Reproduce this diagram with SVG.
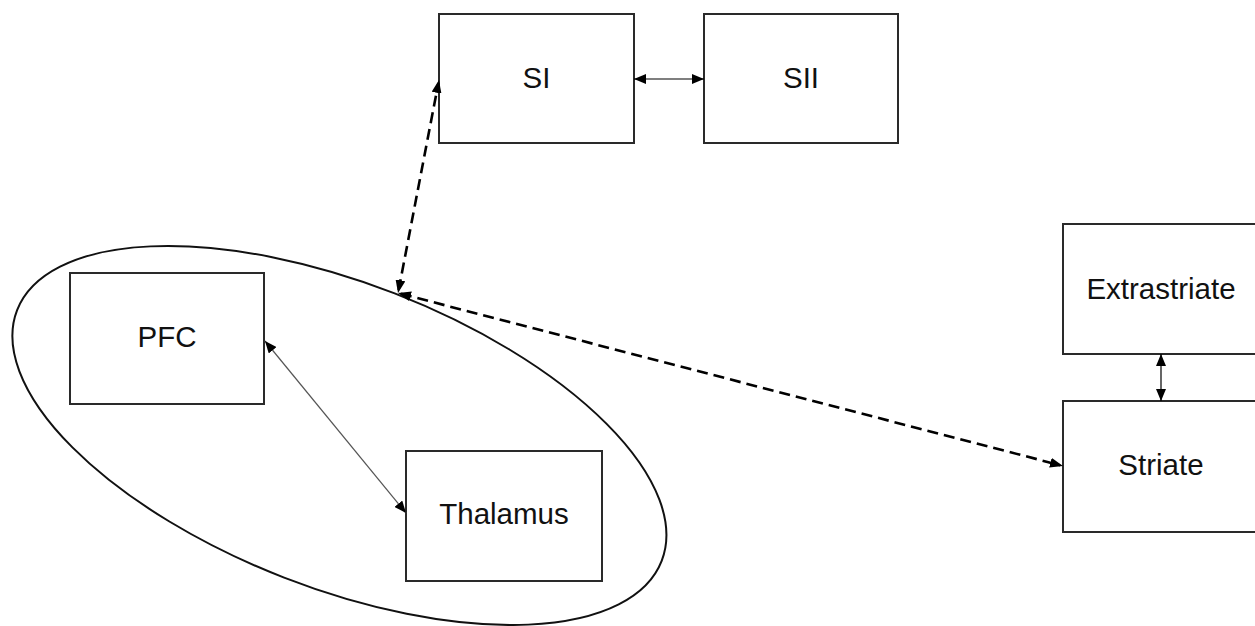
<svg xmlns="http://www.w3.org/2000/svg" width="1255" height="626" viewBox="0 0 1255 626">
  <style>
    .box { fill: #ffffff; stroke: #2a2a2a; stroke-width: 2; }
    .lbl { font-family: "Liberation Sans", Arial, sans-serif; font-size: 29.5px; fill: #111111; text-anchor: middle; }
    .thin { fill: none; stroke: #000000; stroke-width: 1.2; }
    .gray { fill: none; stroke: #555555; stroke-width: 1.2; }
    .dash { fill: none; stroke: #000000; stroke-width: 2.6; stroke-dasharray: 11 6; }
    .group { fill: none; stroke: #111111; stroke-width: 2; }
  </style>
  <defs>
    <marker id="ah" viewBox="0 0 12 10" refX="12" refY="5" markerWidth="12" markerHeight="10" orient="auto-start-reverse" markerUnits="userSpaceOnUse">
      <path d="M0,0 L12,5 L0,10 z" fill="#000000"/>
    </marker>
    <marker id="ahd" viewBox="0 0 13 10" refX="10" refY="5" markerWidth="13" markerHeight="10" orient="auto-start-reverse" markerUnits="userSpaceOnUse">
      <path d="M0,0 L13,5 L0,10 z" fill="#000000"/>
    </marker>
  </defs>
  <rect width="1255" height="626" fill="#ffffff"/>

  <g id="group-ellipse">
    <ellipse class="group" cx="339.4" cy="435.5" rx="345.8" ry="152.5" transform="rotate(21.25 339.4 435.5)"/>
  </g>

  <g id="node-SI">
    <rect class="box" x="439" y="14" width="195" height="129"/>
    <text class="lbl" x="536.5" y="88">SI</text>
  </g>
  <g id="node-SII">
    <rect class="box" x="704" y="14" width="194" height="129"/>
    <text class="lbl" x="801" y="88">SII</text>
  </g>
  <g id="node-PFC">
    <rect class="box" x="70" y="273" width="194" height="131"/>
    <text class="lbl" x="167" y="347">PFC</text>
  </g>
  <g id="node-Thalamus">
    <rect class="box" x="406" y="451" width="196" height="130"/>
    <text class="lbl" x="504" y="524">Thalamus</text>
  </g>
  <g id="node-Extrastriate">
    <rect class="box" x="1063" y="224" width="196" height="130"/>
    <text class="lbl" x="1161" y="299">Extrastriate</text>
  </g>
  <g id="node-Striate">
    <rect class="box" x="1063" y="401" width="196" height="131"/>
    <text class="lbl" x="1161" y="475">Striate</text>
  </g>

  <g id="connectors">
    <line class="thin" x1="634" y1="79" x2="704" y2="79" marker-start="url(#ah)" marker-end="url(#ah)"/>
    <line class="thin" x1="1161" y1="354" x2="1161" y2="401" marker-start="url(#ah)" marker-end="url(#ah)"/>
    <line class="gray" x1="265" y1="341" x2="406" y2="513" marker-start="url(#ah)" marker-end="url(#ah)"/>
    <line class="dash" x1="398.6" y1="290.1" x2="438.4" y2="82.9" marker-start="url(#ahd)" marker-end="url(#ahd)"/>
    <line class="dash" x1="400.9" y1="293.8" x2="1060.1" y2="465.2" marker-start="url(#ahd)" marker-end="url(#ahd)"/>
  </g>
</svg>
